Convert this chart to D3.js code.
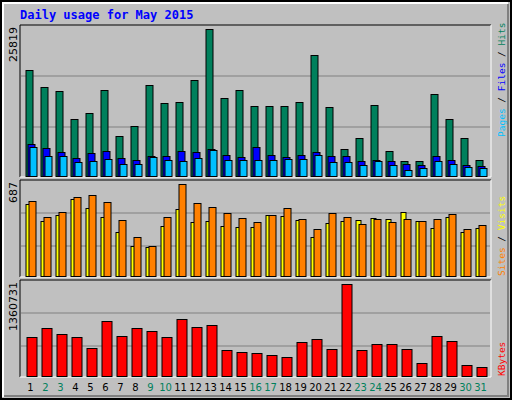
<!DOCTYPE html>
<html><head><meta charset="utf-8">
<script src="https://cdn.jsdelivr.net/npm/d3@7"></script>
<style>body{margin:0;background:#fff}</style>
</head><body><svg></svg>
<script>
var days = d3.range(1, 32);
var weekend = [2,3,9,10,16,17,23,24,30,31];
var hits = [18633,15654,14953,10047,11098,15128,7068,8820,16004,12850,13025,16881,25819,13727,15128,12325,12325,12325,13025,21262,12150,4790,6717,12500,4439,2687,2687,14427,10047,6717,2862];
var files = [5666,4965,4264,3213,4089,4439,3213,2862,3563,3563,4439,4264,4790,3738,3388,5140,3738,3388,3738,4264,3563,3563,2687,2862,2687,2161,1986,3563,2862,1986,1811];
var pages = [5140,3563,3563,2511,2687,3038,2161,2161,3388,2862,2687,3213,4614,2862,2862,2862,2862,3038,3038,3738,2511,2511,1986,2687,1986,1110,1460,2687,2161,1635,1460];
var sites = [537,410,455,575,507,440,327,222,215,372,500,402,410,372,365,365,455,447,417,290,395,410,417,432,425,477,410,357,440,327,357];
var visits = [560,440,477,590,605,552,417,290,222,440,687,545,515,470,432,402,455,507,425,350,470,440,387,425,402,425,410,425,462,350,380];
var kbytes = [571127,714327,615023,571127,417851,815021,593188,703366,670363,571127,848024,725237,747137,390054,349830,338902,304940,282636,496210,551471,405573,1360731,390054,467232,467232,401106,192040,593188,524980,170070,136573];

var svg = d3.select("svg").attr("width", 512).attr("height", 400);
var W = 512, H = 400;
svg.append("rect").attr("width", W).attr("height", H).attr("fill", "#c0c0c0");
svg.append("rect").attr("x", 1).attr("y", 1).attr("width", W - 2).attr("height", H - 2)
  .attr("fill", "none").attr("stroke", "#000").attr("stroke-width", 2);
svg.append("path").attr("d", "M3,397 V3 H508").attr("stroke", "#fff").attr("fill", "none").attr("stroke-width", 2);
svg.append("path").attr("d", "M4,396 H508 V4").attr("stroke", "#808080").attr("fill", "none").attr("stroke-width", 2);

svg.append("text").attr("x", 20).attr("y", 19).text("Daily usage for May 2015")
  .attr("font-family", "DejaVu Sans Mono").attr("font-weight", "bold").attr("font-size", 12).attr("fill", "#0000ff");

var x = d3.scaleLinear().domain([1, 2]).range([25.5, 40.5]);

function panel(y0, y1, max) {
  svg.append("path").attr("d", "M20," + y1 + " V" + y0 + " H491").attr("stroke", "#000").attr("fill", "none");
  svg.append("path").attr("d", "M20," + y1 + " H491 V" + y0).attr("stroke", "#fff").attr("fill", "none");
  return d3.scaleLinear().domain([0, max]).range([y1 - 1, y0 + 4]);
}
function grid(ys) {
  ys.forEach(function (g) {
    svg.append("line").attr("x1", 21).attr("x2", 490).attr("y1", g).attr("y2", g).attr("stroke", "#808080");
  });
}
function bars(y, data, off, w, color) {
  svg.append("g").selectAll("rect").data(data).enter().append("rect")
    .attr("x", function (d, i) { return x(days[i]) + off + 0.5; })
    .attr("y", function (d) { return Math.round(y(d)) + 0.5; })
    .attr("width", w)
    .attr("height", function (d) { return Math.max(0, y.range()[0] - Math.round(y(d))); })
    .attr("fill", color).attr("stroke", "#000");
}
function maxLabel(text, yTop) {
  svg.append("text").attr("transform", "translate(17," + yTop + ") rotate(-90)")
    .attr("text-anchor", "end").text(text)
    .attr("font-family", "DejaVu Sans").attr("font-size", 11).attr("fill", "#000");
}
function sideLabel(parts, yBottom) {
  var t = svg.append("text").attr("transform", "translate(505," + yBottom + ") rotate(-90)")
    .attr("text-anchor", "start").attr("font-family", "DejaVu Sans Mono").attr("font-size", 9.5);
  parts.forEach(function (p) { t.append("tspan").text(p[0]).attr("fill", p[1]); });
}

var y1 = panel(25, 177, 25819);
grid([76, 127]);
bars(y1, hits, 0, 7, "#00805c");
bars(y1, files, 2, 7, "#0000ff");
bars(y1, pages, 4, 7, "#00c0ff");
maxLabel("25819", 27);
sideLabel([["Pages", "#00c0ff"], [" / ", "#000"], ["Files", "#0000ff"], [" / ", "#000"], ["Hits", "#00805c"]], 137);

var y2 = panel(180, 277, 687);
grid([213, 246]);
bars(y2, sites, 0, 5, "#ffff00");
bars(y2, visits, 3, 7, "#ff8000");
maxLabel("687", 182);
sideLabel([["Sites", "#ff8000"], [" / ", "#000"], ["Visits", "#ffff00"]], 276);

var y3 = panel(280, 377, 1360731);
grid([313, 346]);
bars(y3, kbytes, 1, 10, "#ff0000");
maxLabel("1360731", 282);
sideLabel([["KBytes", "#ff0000"]], 376);

svg.append("g").selectAll("text").data(days).enter().append("text")
  .attr("x", function (d) { return x(d) + 5; }).attr("y", 391)
  .attr("text-anchor", "middle").text(function (d) { return d; })
  .attr("font-family", "DejaVu Sans").attr("font-size", 10)
  .attr("fill", function (d) { return weekend.indexOf(d) >= 0 ? "#00805c" : "#000"; });
</script></body></html>
